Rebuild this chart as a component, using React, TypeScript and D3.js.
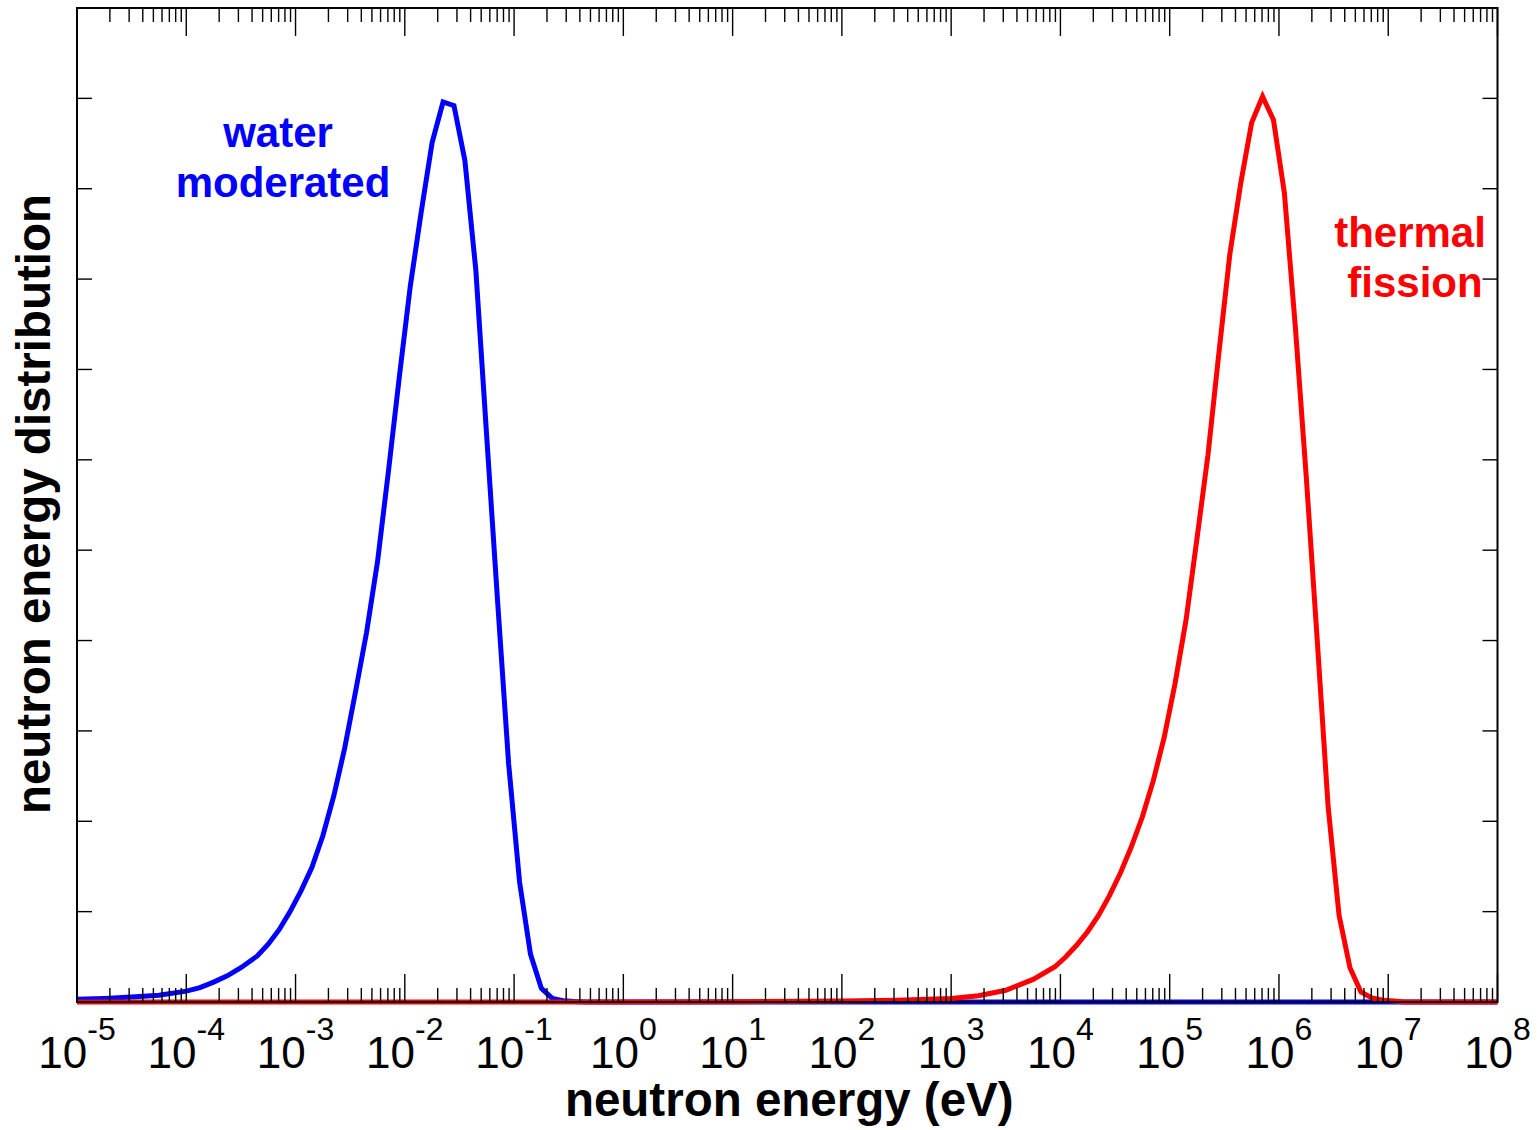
import React from "react";
import * as d3 from "d3";

// log10 of neutron energy (eV) and distribution values
const blueLogE = [-5, -4.75, -4.5, -4.25, -4, -3.875, -3.75, -3.625, -3.5, -3.35, -3.25, -3.15, -3.05, -2.95, -2.85, -2.75, -2.65, -2.55, -2.45, -2.35, -2.25, -2.15, -2.05, -1.95, -1.85, -1.75, -1.65, -1.55, -1.45, -1.35, -1.25, -1.15, -1.05, -0.95, -0.85, -0.75, -0.65, -0.55, -0.45, -0.35, 8];
const blueValues = [0.03, 0.04, 0.055, 0.075, 0.12, 0.16, 0.22, 0.29, 0.38, 0.51, 0.64, 0.8, 1.0, 1.23, 1.49, 1.84, 2.28, 2.81, 3.44, 4.09, 4.87, 5.87, 6.92, 7.92, 8.74, 9.51, 9.96, 9.92, 9.31, 8.1, 6.25, 4.42, 2.64, 1.33, 0.53, 0.15, 0.04, 0.015, 0.005, 0, 0];

const redLogE = [-5, 0, 1, 2, 2.5, 3, 3.25, 3.5, 3.75, 3.95, 4.05, 4.15, 4.25, 4.35, 4.45, 4.55, 4.65, 4.75, 4.85, 4.95, 5.05, 5.15, 5.25, 5.35, 5.45, 5.55, 5.65, 5.75, 5.85, 5.95, 6.05, 6.15, 6.25, 6.35, 6.45, 6.55, 6.65, 6.75, 6.85, 6.95, 7.05, 7.15, 8];
const redValues = [0, 0, 0.003, 0.01, 0.02, 0.04, 0.07, 0.13, 0.25, 0.39, 0.5, 0.63, 0.78, 0.96, 1.18, 1.43, 1.72, 2.05, 2.45, 2.93, 3.53, 4.23, 5.13, 6.05, 7.18, 8.27, 9.06, 9.73, 10.02, 9.76, 8.95, 7.47, 5.81, 4.01, 2.16, 0.96, 0.38, 0.11, 0.045, 0.02, 0.01, 0, 0];

const xExponents = [-5, -4, -3, -2, -1, 0, 1, 2, 3, 4, 5, 6, 7, 8];
const yTickValues = [1, 2, 3, 4, 5, 6, 7, 8, 9, 10];

const FONT = "'Liberation Sans', Arial, Helvetica, sans-serif";

export default function App() {
  const W = 1539, H = 1130;
  const left = 77, right = 1497.5, top = 8, bottom = 1002;
  const x = d3.scaleLog().domain([1e-5, 1e8]).range([left, right]);
  const y = d3.scaleLinear().domain([0, 11]).range([bottom, top]);

  const line = d3
    .line<[number, number]>()
    .x((d) => x(Math.pow(10, d[0])))
    .y((d) => y(d[1]));

  const blueData = blueLogE.map((l, i) => [l, blueValues[i]] as [number, number]);
  const redData = redLogE.map((l, i) => [l, redValues[i]] as [number, number]);

  const majors = xExponents.map((e) => Math.pow(10, e));
  const minors: number[] = [];
  for (let e = -5; e < 8; e++) {
    for (let k = 2; k <= 9; k++) minors.push(k * Math.pow(10, e));
  }

  const majorLen = 28, minorLen = 14, yTickLen = 15;

  return (
    <svg
      width={W}
      height={H}
      style={{ position: "absolute", left: 0, top: 0, background: "#fff" }}
    >
      <rect x={0} y={0} width={W} height={H} fill="#fff" />
      <path d={line(blueData) || ""} fill="none" stroke="#0000ff" strokeWidth={5} strokeLinejoin="miter" />
      <path d={line(redData) || ""} fill="none" stroke="#ff0000" strokeWidth={5} strokeLinejoin="miter" />

      {/* ticks */}
      <g stroke="#000" strokeWidth={1.4}>
        {majors.map((v, i) => (
          <g key={"M" + i}>
            <line x1={x(v)} x2={x(v)} y1={bottom} y2={bottom - majorLen} />
            <line x1={x(v)} x2={x(v)} y1={top} y2={top + majorLen} />
          </g>
        ))}
        {minors.map((v, i) => (
          <g key={"m" + i}>
            <line x1={x(v)} x2={x(v)} y1={bottom} y2={bottom - minorLen} />
            <line x1={x(v)} x2={x(v)} y1={top} y2={top + minorLen} />
          </g>
        ))}
        {yTickValues.map((v) => (
          <g key={"y" + v}>
            <line x1={left} x2={left + yTickLen} y1={y(v)} y2={y(v)} />
            <line x1={right} x2={right - yTickLen} y1={y(v)} y2={y(v)} />
          </g>
        ))}
      </g>
      <rect x={left} y={top} width={right - left} height={bottom - top} fill="none" stroke="#000" strokeWidth={2} />

      {/* tick labels */}
      {xExponents.map((e) => (
        <text
          key={"lbl" + e}
          x={x(Math.pow(10, e))}
          y={1068}
          textAnchor="middle"
          fontFamily={FONT}
          fontSize={44}
          fill="#000"
        >
          <tspan>10</tspan>
          <tspan dy={-28} fontSize={32}>{e < 0 ? "-" + Math.abs(e) : String(e)}</tspan>
        </text>
      ))}

      {/* axis titles */}
      <text x={(left + right) / 2 + 2} y={1116} textAnchor="middle" fontFamily={FONT} fontWeight="bold" fontSize={47.5} fill="#000">
        neutron energy (eV)
      </text>
      <text
        transform={`translate(50, ${(top + bottom) / 2 - 1}) rotate(-90)`}
        textAnchor="middle"
        fontFamily={FONT}
        fontWeight="bold"
        fontSize={47.5}
        fill="#000"
      >
        neutron energy distribution
      </text>

      {/* annotations */}
      <g fontFamily={FONT} fontWeight="bold" fontSize={42} textAnchor="middle">
        <text x={278} y={147} fill="#0000ff">water</text>
        <text x={283} y={197} fill="#0000ff">moderated</text>
        <text x={1410} y={247} fill="#ff0000">thermal</text>
        <text x={1415} y={297} fill="#ff0000">fission</text>
      </g>
    </svg>
  );
}
